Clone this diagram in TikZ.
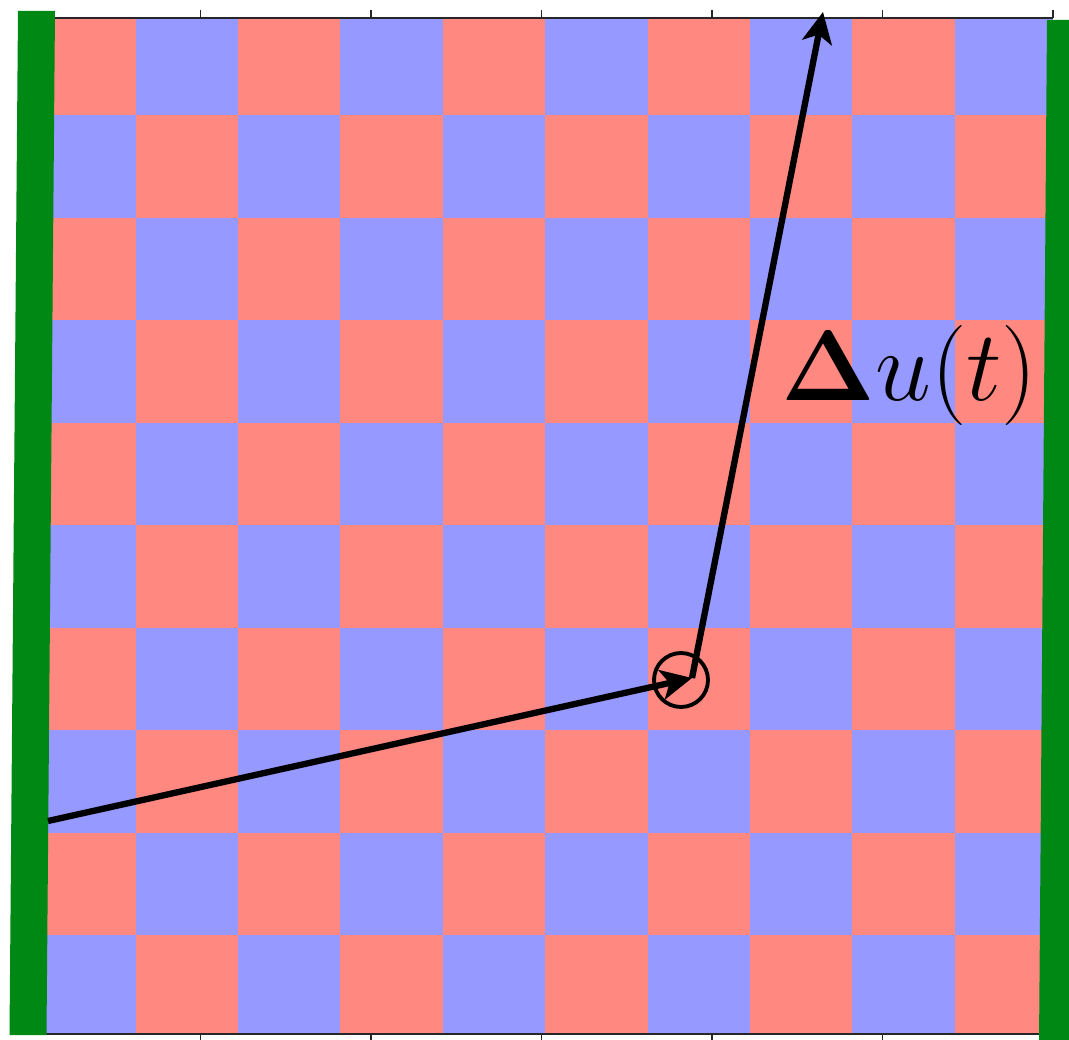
\RequirePackage{fix-cm}
\documentclass[tikz,border=0pt]{standalone}
\usepackage{amsmath,amssymb}
\usepackage{tikz}
\usetikzlibrary{arrows.meta,positioning}
\usepackage{xcolor}
\definecolor{ink}{RGB}{0,0,0}
\definecolor{cPink}{RGB}{255,137,128}
\definecolor{cBlue}{RGB}{150,153,255}
\definecolor{cWall}{RGB}{0,136,20}
\tikzset{
  wall/.style={fill=cWall,draw=none},
  spine/.style={draw=ink!85,line width=0.8pt},
  axtick/.style={draw=ink!85,line width=0.6pt},
  vec/.style={draw=ink,line width=3.6pt,
    -{Stealth[length=0.62cm,width=0.6cm,inset=0.16cm]}},
  part/.style={circle,draw=ink,line width=2.2pt,minimum size=1.08cm,inner sep=0pt},
  lbl/.style={font=\fontsize{57}{64}\selectfont,inner sep=0pt},
}

\begin{document}
\begin{tikzpicture}[x=0.02cm,y=-0.02cm]
  \clip (0,0) rectangle (1069,1040);
  % checkerboard of the two phases, cut to the axes box
  \begin{scope}
    \clip (30,18) rectangle (1053,1034);
    \fill[cBlue] (30,18) rectangle (1053,1034);
    \foreach \i in {0,...,9}
      \foreach \j in {0,...,9}{
        \pgfmathtruncatemacro\cellpar{mod(\i+\j,2)}
        \ifnum\cellpar=0
          \fill[cPink] (33.2+102.4*\i,12.6+102.5*\j) rectangle ++(102.4,102.5);
        \fi
      }
  \end{scope}

  % frame and ticks
  \draw[spine] (30,18) -- (1053,18);
  \draw[spine] (30,1034) -- (1053,1034);
  \foreach \k in {1,...,6}
    \draw[axtick] (30+170.5*\k,18) -- ++(0,-8);
  \foreach \k in {1,...,5}
    \draw[axtick] (30+170.5*\k,1034) -- ++(0,7);

  % walls
  \fill[wall] (18,11) -- (55,11) -- (46.5,1035) -- (9.5,1035) -- cycle;
  \fill[wall] (1047,20) -- (1090,20) -- (1082,1045) -- (1039,1045) -- cycle;

  % particle and its displacement
  \coordinate (wallpt) at (48,821);
  \coordinate (kink) at (692,678);
  \coordinate (dest) at (823,12);
  \node[part] (pt) at (681,680) {};
  \draw[vec] (wallpt) -- (kink);
  \draw[vec] (kink) -- (dest);
  \node[lbl,anchor=base west] (du) at (781,401) {$\mathbf{\Delta} u(t)$};
\end{tikzpicture}
\end{document}
